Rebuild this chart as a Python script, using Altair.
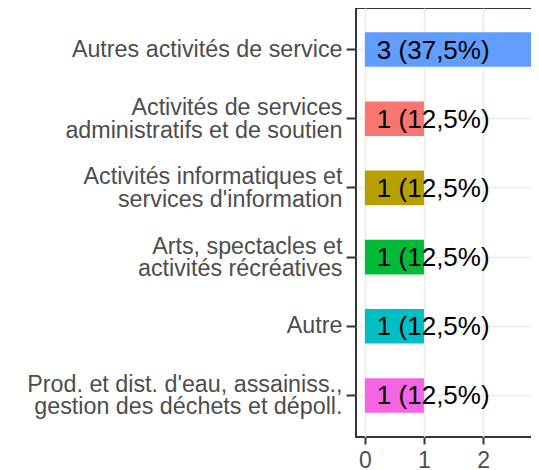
import altair as alt
import pandas as pd

categories = [
    "Autres activités de service",
    "Activités de services\nadministratifs et de soutien",
    "Activités informatiques et\nservices d'information",
    "Arts, spectacles et\nactivités récréatives",
    "Autre",
    "Prod. et dist. d'eau, assainiss.,\ngestion des déchets et dépoll.",
]
counts = [3, 1, 1, 1, 1, 1]
colors = ["#619CFF", "#F8766D", "#B79F00", "#00BA38", "#00BFC4", "#F564E3"]
x_ticks = [0, 0.5, 1, 1.5, 2, 2.5, 3]

total = sum(counts)
labels = [f"{c} ({c / total * 100:.1f}%)".replace(".", ",") for c in counts]

df = pd.DataFrame({"cat": categories, "n": counts, "label": labels})

x_scale = alt.Scale(domain=[-0.15, 3.15], nice=False, zero=False)

y_enc = alt.Y(
    "cat:N",
    sort=categories,
    title=None,
    scale=alt.Scale(paddingInner=0.5, paddingOuter=0.35),
    axis=alt.Axis(
        labelExpr="split(datum.label, '\\n')",
        labelFontSize=23.3,
        labelLineHeight=22.5,
        labelColor="#4D4D4D",
        labelFont="Liberation Sans",
        labelPadding=4,
        labelLimit=400,
        labelOffset={"condition": {"test": "indexof(datum.label, '\\n') >= 0", "value": -10.5}, "value": 0},
        tickSize=10,
        tickWidth=2,
        tickColor="#333333",
        domain=False,
        grid=True,
        gridColor="#EBEBEB",
        gridWidth=1.5,
    ),
)

x_enc = alt.X(
    "n:Q",
    title=None,
    scale=x_scale,
    axis=alt.Axis(
        values=x_ticks,
        labelExpr="datum.value % 1 == 0 ? format(datum.value, 'd') : ''",
        labelFontSize=23,
        labelColor="#4D4D4D",
        labelFont="Liberation Sans",
        labelPadding=5,
        tickSize=7,
        tickWidth=2,
        tickColor="#333333",
        tickOpacity={"condition": {"test": "datum.value % 1 != 0", "value": 0}, "value": 1},
        domain=False,
        grid=True,
        gridColor="#EBEBEB",
        gridWidth={"condition": {"test": "datum.value % 1 != 0", "value": 1}, "value": 1.6},
    ),
)

bars = alt.Chart(df).mark_bar().encode(
    y=y_enc,
    x=x_enc,
    x2=alt.datum(0),
    color=alt.Color("cat:N", scale=alt.Scale(domain=categories, range=colors), legend=None),
)

text = alt.Chart(df).mark_text(
    align="left", baseline="middle", dx=12, dy=1, fontSize=26, font="Liberation Sans", color="black"
).encode(
    y=alt.Y("cat:N", sort=categories),
    x=alt.datum(0),
    text="label:N",
)

chart = (
    alt.layer(bars, text)
    .properties(
        width=195,
        height=429,
        autosize=alt.AutoSizeParams(type="none"),
        padding={"left": 348, "top": 0, "right": -20, "bottom": 35},
    )
    .configure(background="white")
    .configure_view(stroke="#333333", strokeWidth=2)
)

chart.save("out.html", embed_options={"renderer": "svg", "actions": False})
